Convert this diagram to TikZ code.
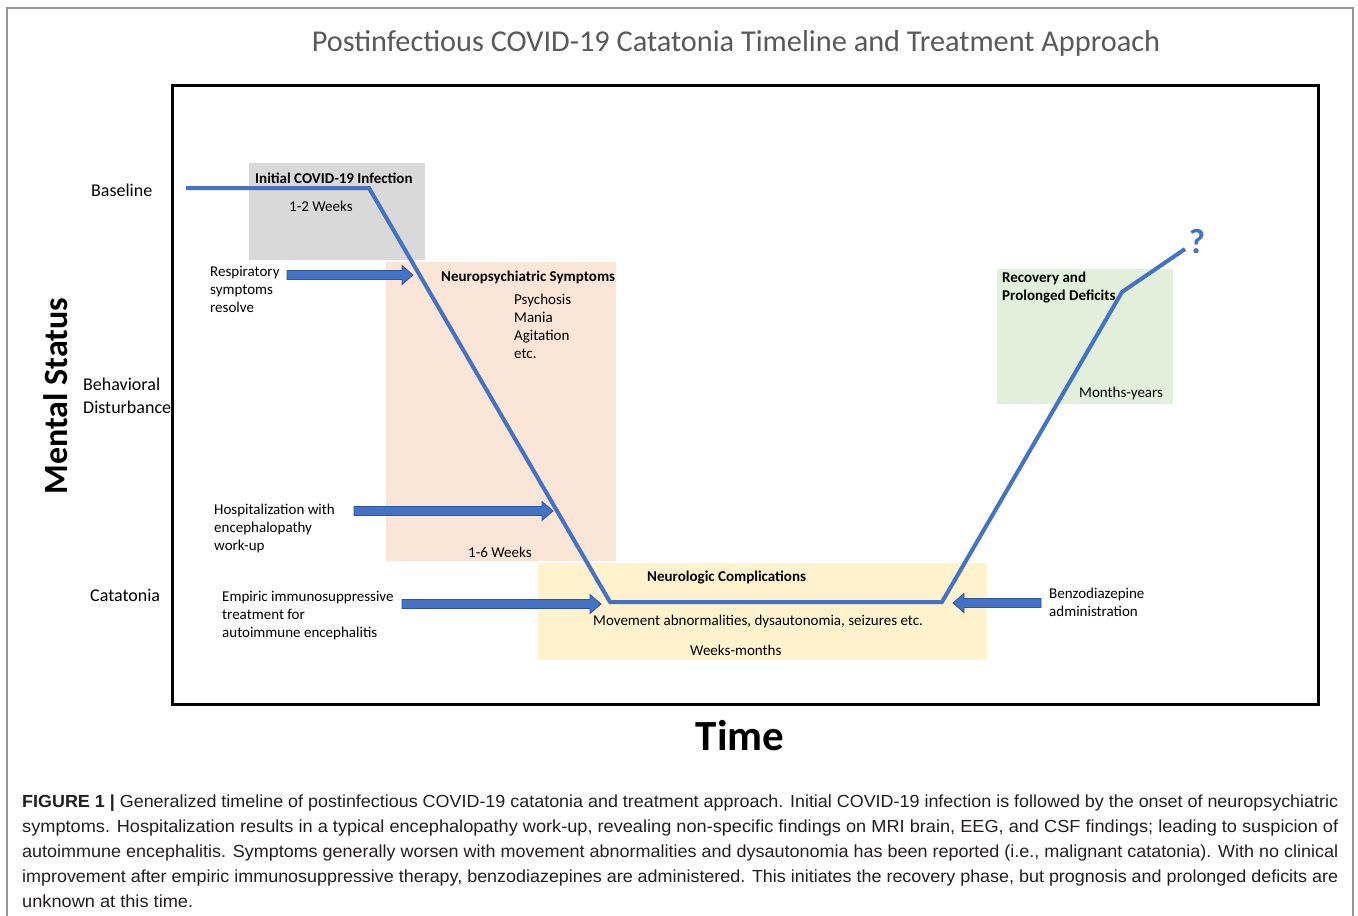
\documentclass[tikz,border=0pt]{standalone}
\usepackage{fontspec}
\usepackage{graphicx}
\setmainfont{Carlito}
\newfontfamily\capfont{Liberation Sans}
\definecolor{lineblue}{RGB}{68,114,196}
\definecolor{arrowedge}{RGB}{47,85,151}
\definecolor{graybox}{RGB}{217,217,217}
\definecolor{peachbox}{RGB}{251,229,214}
\definecolor{goldbox}{RGB}{255,242,204}
\definecolor{greenbox}{RGB}{226,239,218}
\definecolor{titlegray}{RGB}{89,89,89}
\definecolor{framegray}{RGB}{150,150,150}
\definecolor{captext}{RGB}{35,31,32}
\newcommand\ml[1]{\begin{tabular}[t]{@{}l@{}}#1\end{tabular}}
\newcommand\capline[1]{\resizebox{1316pt}{\height}{#1}}
\newcommand\blockarrow[4]{%
  \pgfmathsetmacro\hb{#3-sign(#3-#2)*11}%
  \coordinate (#1-tail) at (#2,#4);
  \coordinate (#1-tip) at (#3,#4);
  \filldraw[barrow] (#1-tail) ++(0,-4.5) -- (\hb,#4-4.5) -- (\hb,#4-9.5) -- (#1-tip) -- (\hb,#4+9.5) -- (\hb,#4+4.5) -- (#2,#4+4.5) -- cycle;
}
\begin{document}
\begin{tikzpicture}[x=1pt,y=-1pt,
  lbl/.style={font=\fontsize{15}{18}\selectfont, inner sep=0pt, anchor=base west, text=black},
  ax/.style={font=\fontsize{18}{23}\selectfont, inner sep=0pt, anchor=base west, text=black},
  boxn/.style={inner sep=0pt, anchor=north west, draw=none},
  tl/.style={draw=lineblue, line width=4pt, line join=miter},
  barrow/.style={fill=lineblue, draw=arrowedge, line width=0.8pt, line join=miter},
  capn/.style={font=\capfont\fontsize{17.5}{25}\selectfont, text=captext, inner sep=0pt, anchor=base west}
]
\useasboundingbox (0,0) rectangle (1358,916);
\fill[white] (0,0) rectangle (1358,916);
% outer frame
\draw[framegray, line width=1.5pt] (7,916) -- (7,8) -- (1353,8) -- (1353,916);
% title
\node[font=\fontsize{30.3}{32}\selectfont, text=titlegray, anchor=base, inner sep=0pt] (title) at (736,51) {Postinfectious COVID-19 Catatonia Timeline and Treatment Approach};
% plot frame
\draw[black, line width=3pt] (172,85) rectangle (1318,704);
% phase boxes
\node[boxn, fill=graybox, minimum width=176pt, minimum height=97pt] (gbox) at (249,163) {};
\node[boxn, fill=peachbox, minimum width=230pt, minimum height=299pt] (pbox) at (386,262) {};
\node[boxn, fill=goldbox, minimum width=449pt, minimum height=97pt] (ybox) at (538,563) {};
\node[boxn, fill=greenbox, minimum width=176pt, minimum height=135pt] (gnbox) at (997,269) {};
% axis titles
\node[font=\fontsize{34}{34}\selectfont\bfseries, rotate=90, anchor=base, inner sep=0pt] (ms) at (67,396) {Mental Status};
\node[font=\fontsize{43}{43}\selectfont\bfseries, anchor=base, inner sep=0pt] (time) at (740,750) {Time};
% axis levels
\node[ax] (baseline) at (91,196) {Baseline};
\node[ax] (behav) at (83,390) {\ml{Behavioral\\Disturbance}};
\node[ax] (cata) at (90,601) {Catatonia};
% timeline
\coordinate (p0) at (186,188);
\coordinate (p1) at (369,188);
\coordinate (p2) at (610,602);
\coordinate (p3) at (942,602);
\coordinate (p4) at (1122,292);
\coordinate (p5) at (1185,249);
\draw[tl] (p0) -- (p1) -- (p2) -- (p3) -- (p4) -- (p5);
\node[font=\fontsize{35}{35}\selectfont\bfseries, text=lineblue, anchor=base, inner sep=0pt] (q) at (1197,253) {?};
% block arrows
\blockarrow{a1}{287}{413}{275}
\blockarrow{a2}{354}{553}{511}
\blockarrow{a3}{402}{601}{604}
\blockarrow{a4}{1041}{953}{603}
% box texts
\node[lbl] (ci) at (255,183) {\bfseries Initial COVID-19 Infection};
\node[lbl] (cw) at (289,211) {1-2 Weeks};
\node[lbl] (ns) at (441,281) {\bfseries Neuropsychiatric Symptoms};
\node[lbl] (nl) at (514,304) {\ml{Psychosis\\Mania\\Agitation\\etc.}};
\node[lbl] (nw) at (468,557) {1-6 Weeks};
\node[lbl] (nc) at (647,581) {\bfseries Neurologic Complications};
\node[lbl] (mv) at (593,625) {Movement abnormalities, dysautonomia, seizures etc.};
\node[lbl] (wm) at (690,655) {Weeks-months};
\node[lbl] (rc) at (1002,282) {\bfseries\ml{Recovery and\\Prolonged Deficits}};
\node[lbl] (my) at (1079,397) {Months-years};
% side labels
\node[lbl] (rs) at (210,276) {\ml{Respiratory\\symptoms\\resolve}};
\node[lbl] (hw) at (214,514) {\ml{Hospitalization with\\encephalopathy\\work-up}};
\node[lbl] (em) at (222,601) {\ml{Empiric immunosuppressive\\treatment for\\autoimmune encephalitis}};
\node[lbl] (bz) at (1049,598) {\ml{Benzodiazepine\\administration}};
% caption
\node[capn] (c1) at (22,807) {\capline{\textbf{FIGURE 1 |} Generalized timeline of postinfectious COVID-19 catatonia and treatment approach. Initial COVID-19 infection is followed by the onset of neuropsychiatric}};
\node[capn] (c2) at (22,832) {\capline{symptoms. Hospitalization results in a typical encephalopathy work-up, revealing non-specific findings on MRI brain, EEG, and CSF findings; leading to suspicion of}};
\node[capn] (c3) at (22,857) {\capline{autoimmune encephalitis. Symptoms generally worsen with movement abnormalities and dysautonomia has been reported (i.e., malignant catatonia). With no clinical}};
\node[capn] (c4) at (22,882) {\capline{improvement after empiric immunosuppressive therapy, benzodiazepines are administered. This initiates the recovery phase, but prognosis and prolonged deficits are}};
\node[capn] (c5) at (22,907) {\scalebox{1.04}[1]{unknown at this time.}};
\end{tikzpicture}
\end{document}
